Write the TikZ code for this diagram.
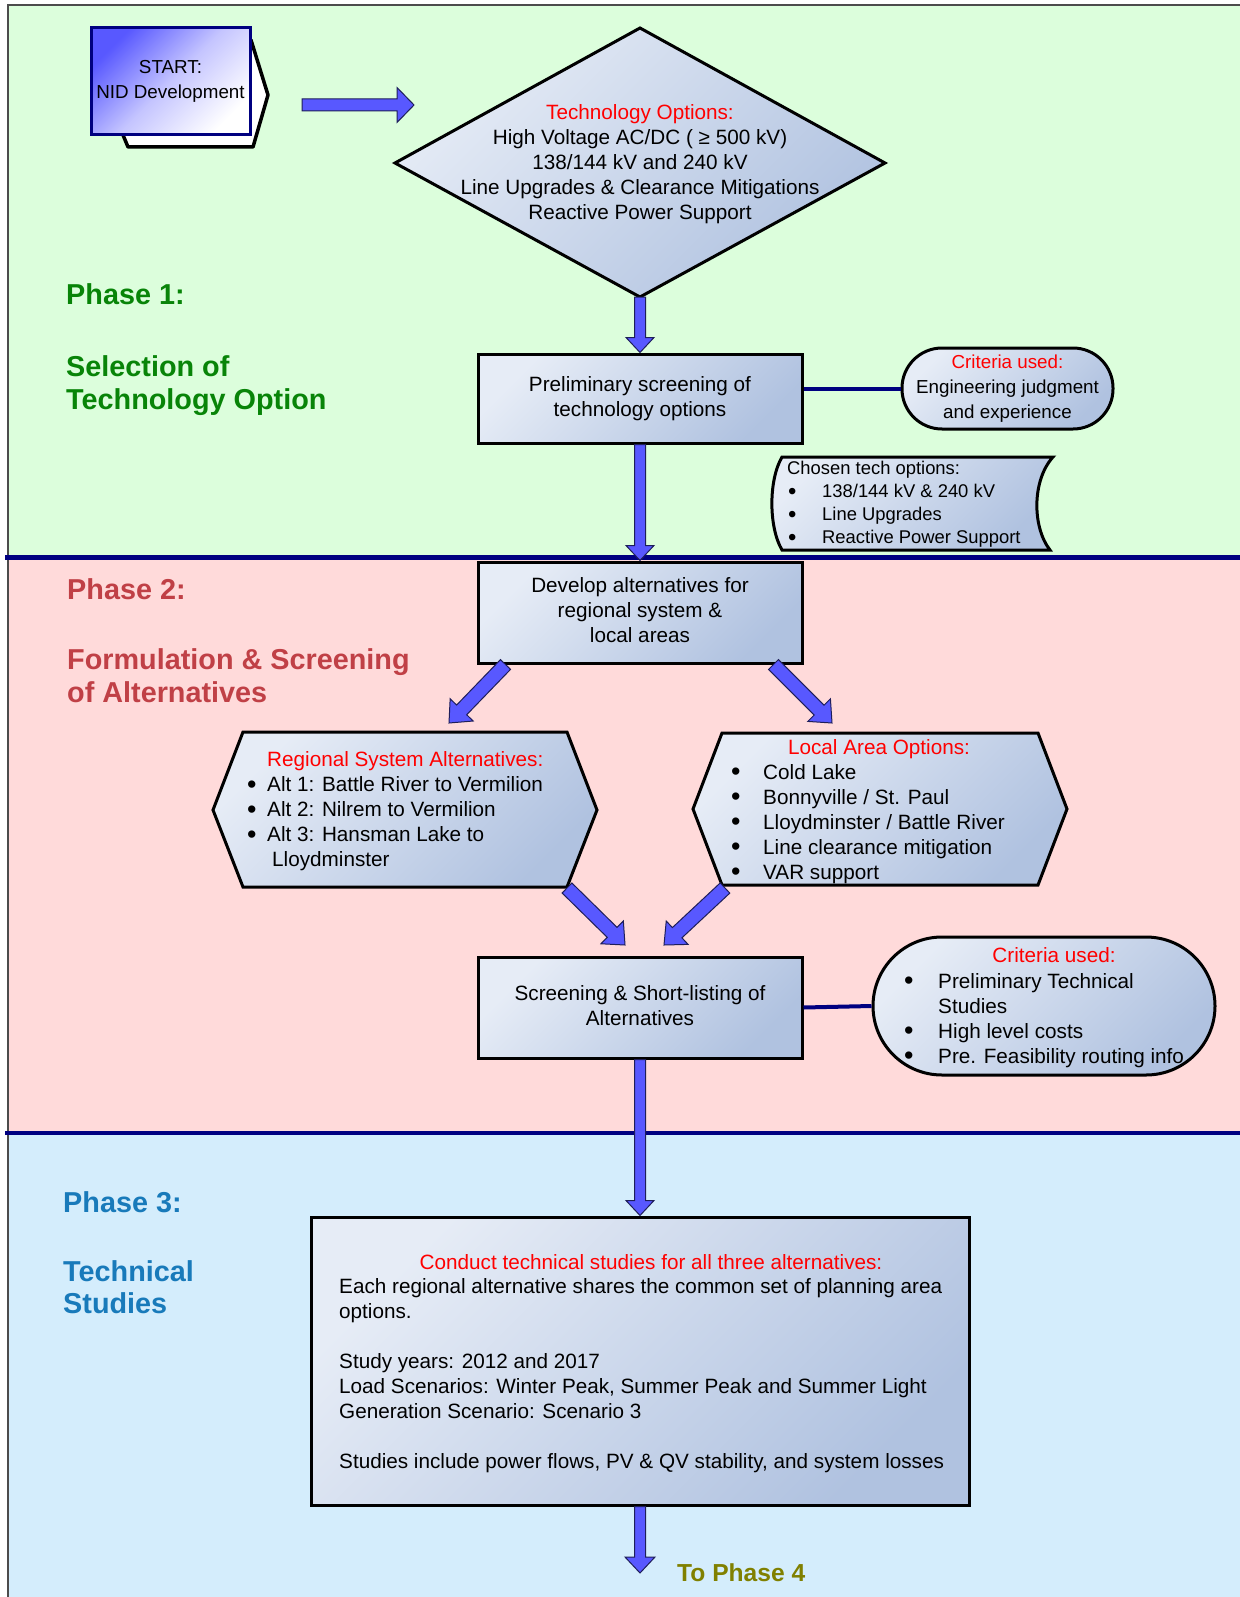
\documentclass[tikz,border=0pt]{standalone}
\usepackage{fontspec}
\usepackage{graphicx}
\setmainfont{Liberation Sans}
\usetikzlibrary{calc,shapes.misc}
\definecolor{bggreen}{RGB}{220,254,220}
\definecolor{bgpink}{RGB}{255,218,218}
\definecolor{bgblue}{RGB}{212,237,252}
\definecolor{navy}{RGB}{0,0,128}
\definecolor{arrowblue}{RGB}{88,88,255}
\definecolor{arrowedge}{RGB}{30,30,90}
\definecolor{shapelight}{RGB}{230,236,246}
\definecolor{shapedark}{RGB}{176,194,224}
\definecolor{startblue}{RGB}{88,88,255}
\definecolor{phone}{RGB}{8,132,8}
\definecolor{phtwo}{RGB}{192,64,70}
\definecolor{phthree}{RGB}{24,122,186}
\definecolor{phfour}{RGB}{128,128,0}
\newcommand\fA{\fontsize{20.7}{25}\selectfont}
\newcommand\fS{\fontsize{18.8}{25}\selectfont}
\newcommand\fC{\fontsize{18.4}{23}\selectfont}
\newcommand\fH{\fontsize{28.8}{34}\selectfont\bfseries}
\newcommand\fP{\fontsize{24.6}{30}\selectfont\bfseries}
\newcommand\bul{\raisebox{-1.8pt}{\scalebox{1.3}{\textbullet}}}
\newcommand\blockarr[5]{%
\path[barrow] let \p1=(#1), \p2=(#2), \n1={scalar(atan2(\y2-\y1,\x2-\x1))}, \n2={veclen(\x2-\x1,\y2-\y1)-#5pt} in
 ($(\p1)+({\n1+90}:#3pt)$) -- ($(\p1)+(\n1:\n2)+({\n1+90}:#3pt)$) -- ($(\p1)+(\n1:\n2)+({\n1+90}:#4pt)$) -- (\p2) -- ($(\p1)+(\n1:\n2)+({\n1-90}:#4pt)$) -- ($(\p1)+(\n1:\n2)+({\n1-90}:#3pt)$) -- ($(\p1)+({\n1-90}:#3pt)$) -- cycle;}
\begin{document}
\begin{tikzpicture}[x=1pt,y=-1pt,
  shapefill/.style={top color=shapelight, bottom color=shapedark, shading angle=45},
  box/.style={draw=black, line width=3pt, shapefill, align=center, font=\fA, inner sep=2pt},
  outline/.style={draw=black, line width=3pt, shapefill, line join=miter},
  barrow/.style={draw=arrowedge, line width=1pt, fill=arrowblue},
  phase/.style={anchor=base west, inner sep=0pt, font=\fH},
  txt/.style={inner sep=0pt, font=\fA, align=left},
  conn/.style={draw=navy, line width=4pt}]
\useasboundingbox (0,0) rectangle (1239,1597);
% backgrounds
\fill[bggreen] (8,5) rectangle (1245,557);
\fill[bgpink] (8,557) rectangle (1245,1133);
\fill[bgblue] (8,1133) rectangle (1245,1600);
\draw[line width=1.5pt, black!70] (8,1600) -- (8,5) -- (1245,5);
\draw[navy, line width=5pt] (5,557) -- (1245,557);
\draw[navy, line width=4pt] (5,1133) -- (1245,1133);

% phase labels
\node[phase, text=phone] (p1a) at (66,304) {Phase 1:};
\node[phase, text=phone] (p1b) at (66,376) {Selection of};
\node[phase, text=phone] (p1c) at (66,409) {Technology Option};
\node[phase, text=phtwo] (p2a) at (67,599) {Phase 2:};
\node[phase, text=phtwo] (p2b) at (67,669) {Formulation \& Screening};
\node[phase, text=phtwo] (p2c) at (67,702) {of Alternatives};
\node[phase, text=phthree] (p3a) at (63,1212) {Phase 3:};
\node[phase, text=phthree] (p3b) at (63,1281) {Technical};
\node[phase, text=phthree] (p3c) at (63,1313) {Studies};
\node[anchor=base west, inner sep=0pt, font=\fP, text=phfour] (p4) at (677,1581) {To Phase 4};

% start
\path[draw=black, line width=3.5pt, fill=white, line join=round] (123,40) -- (251,40) -- (268,95) -- (253,147) -- (128,147) -- (123,135) -- cycle;
\node[draw=navy, line width=3pt, top color=startblue, bottom color=white, middle color=startblue!35, shading angle=45, minimum width=159pt, minimum height=107pt, inner sep=1pt, align=center, font=\fS] (start) at (170.5,81.5) {\strut START:\\NID Development\strut};

% diamond
\coordinate (dtop) at (640,28);
\coordinate (dright) at (885,163);
\coordinate (dbot) at (640,297);
\coordinate (dleft) at (395,163);
\path[outline] (dtop) -- (dright) -- (dbot) -- (dleft) -- cycle;
\node[txt, align=center] (tech) at (640,165) {\strut\textcolor{red}{Technology Options:}\\High Voltage AC/DC ( ≥ 500 kV)\\138/144 kV and 240 kV\\Line Upgrades \& Clearance Mitigations\\Reactive Power Support\strut};

% phase 1 boxes
\node[box, minimum width=324pt, minimum height=89pt] (prelim) at (640,398.5) {\strut Preliminary screening of\\technology options\strut};
\node[draw=black, line width=3pt, shapefill, rectangle, rounded corners=40pt, minimum width=211pt, minimum height=81pt, inner sep=1pt, align=center, font=\fS] (crit1) at (1007.5,388.5) {\strut\textcolor{red}{Criteria used:}\\Engineering judgment\\and experience\strut};
\draw[conn] (crit1.west -| prelim.east) -- (crit1.west);

\path[outline] (782,457) -- (1053,457) .. controls (1032,480) and (1032,527) .. (1050,550) -- (782,550) .. controls (768.5,527) and (768.5,480) .. (782,457) -- cycle;
\node[inner sep=0pt, font=\fC, align=left, anchor=west] (chosen) at (787,504.5) {\strut Chosen tech options:\\\makebox[35pt][l]{\hspace*{1pt}\bul}138/144 kV \& 240 kV\\\makebox[35pt][l]{\hspace*{1pt}\bul}Line Upgrades\\\makebox[35pt][l]{\hspace*{1pt}\bul}Reactive Power Support\strut};

% phase 2
\node[box, minimum width=324pt, minimum height=101pt] (dev) at (640,612.5) {\strut Develop alternatives for\\regional system \&\\local areas\strut};

\path[outline] (243,732) -- (567,732) -- (597,810) -- (567,887) -- (243,887) -- (213,810) -- cycle;
\node[txt, anchor=west] (hexL) at (247,811.5) {\strut\hspace*{20pt}\textcolor{red}{Regional System Alternatives:}\\\makebox[20pt][l]{\bul}Alt 1: Battle River to Vermilion\\\makebox[20pt][l]{\bul}Alt 2: Nilrem to Vermilion\\\makebox[20pt][l]{\bul}Alt 3: Hansman Lake to\\\hspace*{25pt}Lloydminster\strut};

\path[outline] (722,733) -- (1038,733) -- (1067,809) -- (1038,885) -- (722,885) -- (693,809) -- cycle;
\node[txt, align=center] (hexRh) at (879,749) {\strut\textcolor{red}{Local Area Options:}};
\node[txt, anchor=west] (hexR) at (731,824) {\strut\makebox[32pt][l]{\bul}Cold Lake\\\makebox[32pt][l]{\bul}Bonnyville / St. Paul\\\makebox[32pt][l]{\bul}Lloydminster / Battle River\\\makebox[32pt][l]{\bul}Line clearance mitigation\\\makebox[32pt][l]{\bul}VAR support\strut};

\node[box, minimum width=324pt, minimum height=101pt] (screen) at (640,1007.5) {\strut Screening \& Short-listing of\\Alternatives\strut};
\node[draw=black, line width=3pt, shapefill, rectangle, rounded corners=69pt, minimum width=342pt, minimum height=138pt] (crit2) at (1044,1006) {};
\draw[conn] (screen.east) -- (crit2.west);
\node[txt, align=center] (crit2h) at (1054,957) {\strut\textcolor{red}{Criteria used:}};
\node[txt, anchor=west] (crit2t) at (904,1020.5) {\strut\makebox[34pt][l]{\bul}Preliminary Technical\\\hspace*{34pt}Studies\\\makebox[34pt][l]{\bul}High level costs\\\makebox[34pt][l]{\bul}Pre. Feasibility routing info\strut};

% phase 3
\node[draw=black, line width=3pt, shapefill, minimum width=658pt, minimum height=288pt] (study) at (640,1361) {};
\node[txt, align=center] (studyh) at (651,1264) {\strut\textcolor{red}{Conduct technical studies for all three alternatives:}};
\node[txt, anchor=west] (studyt) at (339,1376) {\strut Each regional alternative shares the common set of planning area\\options.\\~\\Study years: 2012 and 2017\\Load Scenarios: Winter Peak, Summer Peak and Summer Light\\Generation Scenario: Scenario 3\\~\\Studies include power flows, PV \& QV stability, and system losses\strut};

% connectors
\coordinate (s1) at (302,105);
\coordinate (s2) at (414,105);
\blockarr{s1}{s2}{6}{17.5}{17}
\blockarr{dbot}{prelim.north}{5.5}{14}{15}
\blockarr{prelim.south}{dev.north}{5.5}{14}{15}
\coordinate (dL) at ($(dev.south west)+(29,0)$);
\coordinate (hLt) at (449,723);
\coordinate (dR) at ($(dev.south east)+(-30,0)$);
\coordinate (hRt) at (832,723);
\blockarr{dL}{hLt}{7}{16}{18}
\blockarr{dR}{hRt}{7}{16}{18}
\coordinate (hLb) at (567,888);
\coordinate (sL) at (625,945);
\coordinate (hRb) at (725,888);
\coordinate (sR) at (664,945);
\blockarr{hLb}{sL}{7}{16}{18}
\blockarr{hRb}{sR}{7}{16}{18}
\blockarr{screen.south}{study.north}{5.5}{14}{15}
\coordinate (toP4) at (640,1573);
\blockarr{study.south}{toP4}{5.5}{15}{16}
\end{tikzpicture}
\end{document}
